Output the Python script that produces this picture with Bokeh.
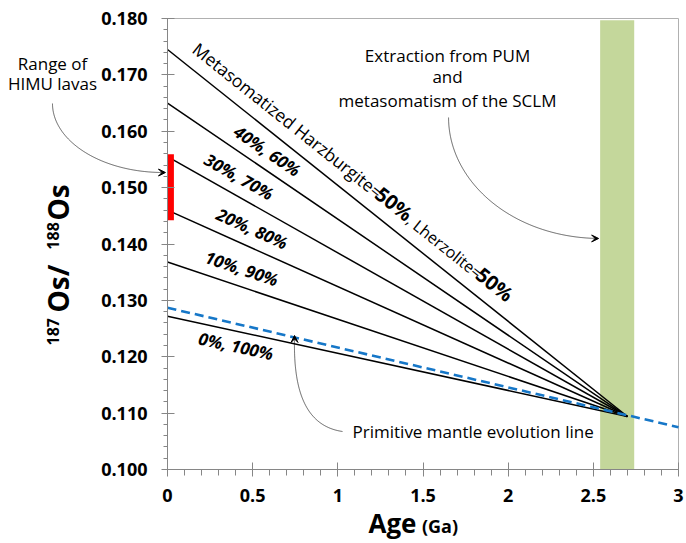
import numpy as np
from bokeh.plotting import figure
from bokeh.models import (Range1d, FixedTicker, Label, Arrow, VeeHead, PolyAnnotation)
from bokeh.embed import file_html
from bokeh.resources import INLINE

# ---------------- data ----------------
# Mixing model lines: present-day 187Os/188Os (age 0) converging to the PUM value at 2.7 Ga
mix_os_today = [0.1745, 0.1650, 0.1555, 0.1460, 0.1368, 0.1272]
mix_age = 2.7
mix_os_at_age = 0.1094
mix_labels = ["40%, 60%", "30%, 70%", "20%, 80%", "10%, 90%", "0%, 100%"]

# Primitive mantle evolution line
pm_age = [0.0, 3.0]
pm_os = [0.1287, 0.1075]

# Range of HIMU lavas
himu_age = [0.02]
himu_low = [0.1442]
himu_high = [0.1559]

# Extraction / metasomatism age band
band_start = [2.54]
band_end = [2.74]
band_bottom = [0.100]
band_top = [0.1797]

x_ticks = [0, 0.5, 1, 1.5, 2, 2.5, 3]
x_tick_labels = ["0", "0.5", "1", "1.5", "2", "2.5", "3"]
y_ticks = [0.100, 0.110, 0.120, 0.130, 0.140, 0.150, 0.160, 0.170, 0.180]
y_tick_labels = ["0.100", "0.110", "0.120", "0.130", "0.140", "0.150", "0.160", "0.170", "0.180"]

X_MIN, X_MAX = 0.0, 3.0
Y_MIN, Y_MAX = 0.100, 0.180

# ---------------- layout ----------------
W, H = 686, 543
PLOT_L, PLOT_R, PLOT_T, PLOT_B = 167, 678, 18, 469   # plot-area box in pixels
kx = (X_MAX - X_MIN) / (PLOT_R - PLOT_L)
ky = (Y_MAX - Y_MIN) / (PLOT_B - PLOT_T)
xr = Range1d(X_MIN - PLOT_L * kx, X_MAX + (W - PLOT_R) * kx)
yr = Range1d(Y_MIN - (H - PLOT_B) * ky, Y_MAX + PLOT_T * ky)

FONT = "Open Sans"

p = figure(width=W, height=H, x_range=xr, y_range=yr,
           output_backend="svg", toolbar_location=None,
           min_border=0, min_border_left=0, min_border_right=0, min_border_top=0, min_border_bottom=0)
p.title.visible = False
p.grid.visible = False
p.outline_line_color = None
p.background_fill_color = "white"
p.border_fill_color = "white"

# axes (fixed inside the canvas)
p.xaxis.fixed_location = Y_MIN
p.yaxis.fixed_location = X_MIN
p.xaxis.bounds = (X_MIN, X_MAX)
p.yaxis.bounds = (Y_MIN, Y_MAX)
p.xaxis.ticker = FixedTicker(ticks=x_ticks, minor_ticks=[round(i * 0.1, 2) for i in range(31)])
p.yaxis.ticker = FixedTicker(ticks=y_ticks, minor_ticks=[round(0.1 + i * 0.002, 3) for i in range(41)])
p.xaxis.major_label_overrides = {t: l for t, l in zip(x_ticks, x_tick_labels)}
p.yaxis.major_label_overrides = {t: l for t, l in zip(y_ticks, y_tick_labels)}
for ax in (p.xaxis[0], p.yaxis[0]):
    ax.axis_line_color = "#868686"
    ax.major_tick_line_color = "#868686"
    ax.minor_tick_line_color = "#868686"
    ax.major_label_text_font = FONT
    ax.major_label_text_font_style = "bold"
    ax.major_label_text_font_size = "18px"
    ax.major_label_text_color = "black"
p.xaxis.major_tick_in = 7
p.xaxis.major_tick_out = 7
p.xaxis.minor_tick_in = 0
p.xaxis.minor_tick_out = 6
p.xaxis.major_label_standoff = 12
p.yaxis.major_tick_in = 7
p.yaxis.major_tick_out = 6
p.yaxis.minor_tick_in = 0
p.yaxis.minor_tick_out = 4
p.yaxis.major_label_standoff = 14

# plot-area border (top and right)
p.segment(x0=[X_MIN, X_MAX], y0=[Y_MAX, Y_MIN], x1=[X_MAX, X_MAX], y1=[Y_MAX, Y_MAX],
          line_color="#b0b0b0", line_width=1)

# green band
p.quad(left=band_start, right=band_end, bottom=band_bottom, top=band_top,
       fill_color="#c4d79b", line_color=None)

# mixing lines
p.multi_line(xs=[[0, mix_age] for _ in mix_os_today],
             ys=[[o, mix_os_at_age] for o in mix_os_today],
             line_color="black", line_width=1.5)

# primitive mantle evolution line
p.line(pm_age, pm_os, line_color="#1677c8", line_width=2.6, line_dash="9 5")

# HIMU range
p.segment(x0=himu_age, y0=himu_low, x1=himu_age, y1=himu_high,
          line_color="#ff0000", line_width=6, line_cap="butt")

# ---------------- labels ----------------
SHIFT = 0.41  # baseline correction (em) so that (x, y) is the alphabetic baseline start

def lab(x, y, text, size=17.0, style="normal", angle=0.0, align="left"):
    s = SHIFT * size
    p.add_layout(Label(x=x, y=y, text=text, angle=angle, text_font=FONT, text_font_size=f"{size}px",
                       text_font_style=style, text_align=align, text_baseline="alphabetic",
                       x_offset=-np.sin(angle) * s, y_offset=np.cos(angle) * s,
                       text_color="black"))

def line_angle(o):
    slope_px = ((o - mix_os_at_age) / ky) / (mix_age / kx)
    return -float(np.arctan(slope_px))

# rotated label along the top mixing line
top_angle = line_angle(mix_os_today[0])
lab(0.1380, 0.17408, "Metasomatized Harzburgite=", 17.5, "normal", top_angle)
lab(1.2065, 0.14825, "50%", 20, "bold", top_angle)
lab(1.3943, 0.14369, ", Lherzolite=", 16, "normal", top_angle)
lab(1.7977, 0.13395, "50%", 20, "bold", top_angle)

mix_label_x = [0.3793, 0.2061, 0.2777, 0.2119, 0.1761]
mix_label_y = [0.15930, 0.15419, 0.14438, 0.13665, 0.12214]
for t, x, y, o in zip(mix_labels, mix_label_x, mix_label_y, mix_os_today[1:]):
    lab(x, y, t, 17, "bold italic", line_angle(o))

# y axis title (187Os/188Os)
ang = np.pi / 2
lab(-0.632, 0.1220, "187", 16, "bold", ang)
lab(-0.575, 0.12785, "Os", 28, "bold", ang)
lab(-0.575, 0.13430, "/", 28, "bold", ang)
lab(-0.632, 0.13900, "188", 16, "bold", ang)
lab(-0.575, 0.14417, "Os", 28, "bold", ang)

# x axis title
lab(1.180, 0.08865, "Age", 26, "bold")
lab(1.494, 0.08865, "(Ga)", 18, "bold")

# annotation texts
lab(-0.675, 0.17078, "Range of", 17, align="center")
lab(-0.675, 0.16723, "HIMU lavas", 17, align="center")
lab(1.644, 0.17224, "Extraction from PUM", 17, align="center")
lab(1.644, 0.16847, "and", 17, align="center")
lab(1.644, 0.16421, "metasomatism of the SCLM", 17, align="center")
lab(1.0863, 0.1055, "Primitive mantle evolution line", 17)

# curved arrows
def curve(p0, p1, p2, p3, n=50):
    t = np.linspace(0, 1, n)
    xs = (1 - t) ** 3 * p0[0] + 3 * (1 - t) ** 2 * t * p1[0] + 3 * (1 - t) * t ** 2 * p2[0] + t ** 3 * p3[0]
    ys = (1 - t) ** 3 * p0[1] + 3 * (1 - t) ** 2 * t * p1[1] + 3 * (1 - t) * t ** 2 * p2[1] + t ** 3 * p3[1]
    xs = list(xs) + list(xs[::-1])
    ys = list(ys) + list(ys[::-1])
    p.add_layout(PolyAnnotation(xs=xs, ys=ys, fill_alpha=0, line_color="black", line_width=1))

def head(x0, y0, x1, y1):
    p.add_layout(Arrow(x_start=x0, y_start=y0, x_end=x1, y_end=y1, line_color="black", line_width=1,
                       end=VeeHead(size=7, line_color="black", line_width=1, fill_color="black")))

curve((-0.6753, 0.16492), (-0.6753, 0.15836), (-0.3934, 0.15268), (-0.0235, 0.15268))
head(-0.0235, 0.15268, -0.012, 0.15268)
curve((1.650, 0.16244), (1.650, 0.15126), (2.0141, 0.14133), (2.5191, 0.14098))
head(2.5191, 0.14098, 2.531, 0.14098)
curve((1.0276, 0.10674), (0.781, 0.1078), (0.7399, 0.11579), (0.7457, 0.12341))
head(0.7457, 0.12341, 0.7457, 0.12377)

open("out.html", "w").write(file_html(p, INLINE))
